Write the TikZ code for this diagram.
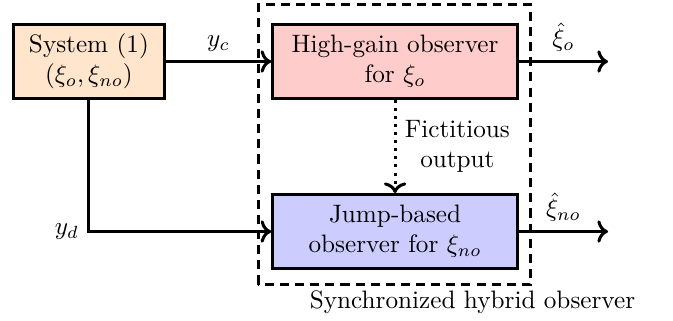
\documentclass[tikz,border=0pt]{standalone}
\usepackage{xcolor}
\usepackage{tikz}
\usetikzlibrary{arrows.meta, calc}
\tikzset{blockbox/.style={draw, very thick, align=center, minimum height=1.03cm}}

\begin{document}
\begin{tikzpicture}
  \useasboundingbox (0,0) rectangle (9.386,4.463);
  \node[blockbox, fill=orange!20, minimum width=2.10cm] (sys) at (1.24,3.605) {System (1)\\$(\xi_o,\xi_{no})$};
  \node[blockbox, fill=red!20, minimum width=3.41cm] (hgo) at (5.51,3.605) {High-gain observer\\for $\xi_o$};
  \node[blockbox, fill=blue!20, minimum width=3.41cm] (jbo) at (5.51,1.234) {Jump-based\\observer for $\xi_{no}$};
  \coordinate (outo) at (8.48,3.605);
  \coordinate (outno) at (8.48,1.234);
  % hybrid observer frame
  \draw[very thick, dash pattern=on 3.6pt off 2.4pt] (3.605,0.495) rectangle (7.399,4.400);
  \node (synclabel) at (6.59,0.251) {Synchronized hybrid observer};
  \draw[->, very thick] (sys) -- node[above] {$y_c$} (hgo);
  \draw[->, very thick] (sys) |- node[pos=0.5, left] {$y_d$} (jbo);
  \draw[->, very thick, dotted] (hgo) -- node[right, align=center] {Fictitious\\output} (jbo);
  \draw[->, very thick] (hgo) -- node[above] {$\hat{\xi}_o$} (outo);
  \draw[->, very thick] (jbo) -- node[above] {$\hat{\xi}_{no}$} (outno);
\end{tikzpicture}
\end{document}
